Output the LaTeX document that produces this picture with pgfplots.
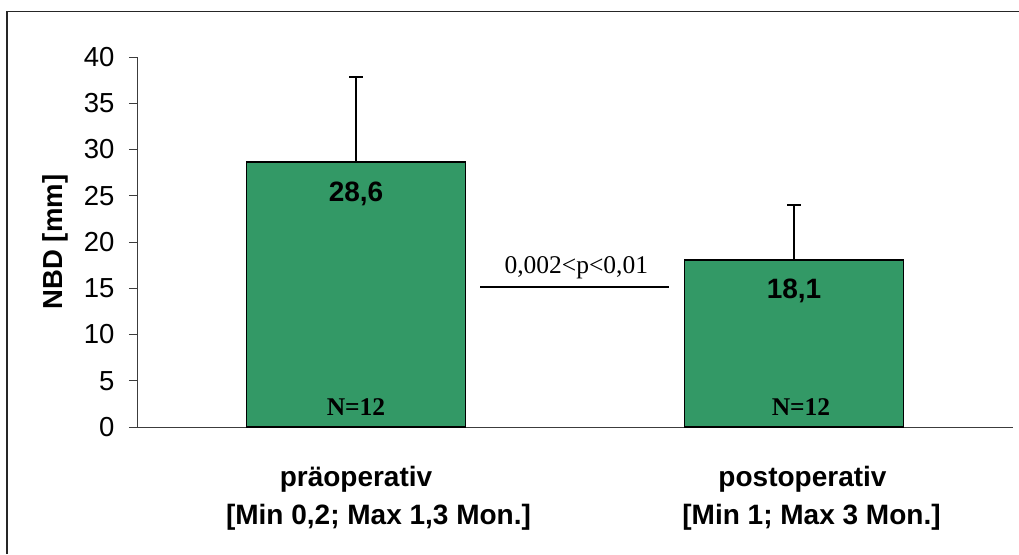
\documentclass[border=0pt]{standalone}
\usepackage{fontspec}
\setmainfont{Liberation Sans}
\newfontfamily\seriffont{Liberation Serif}
\usepackage{pgfplots}
\pgfplotsset{compat=1.18}
\definecolor{barfill}{RGB}{51,153,102}
\definecolor{axisgray}{RGB}{60,60,60}

% mean NBD with upper standard deviation
\pgfplotstableread{
x   y     err
0   28.6  9.2
1   18.1  5.9
}\nbddata

\begin{document}
\begin{tikzpicture}
\useasboundingbox (0pt,0pt) rectangle (1019pt,554pt);
% outer frame of the chart area
\draw[line width=1.4pt, black!85] (7pt,0pt) -- (7pt,542.7pt) -- (1019pt,542.7pt);
\begin{axis}[
  at={(137pt,127pt)}, anchor=south west,
  width=876pt, height=370pt, scale only axis,
  xmin=-0.5, xmax=1.5, ymin=0, ymax=40,
  clip=false,
  ybar, bar width=219pt,
  axis x line=bottom, axis y line=left,
  axis line style={-, axisgray, line width=0.9pt},
  tick align=outside,
  major tick length=8pt,
  ytick={0,5,...,40},
  ytick style={axisgray, line width=0.9pt},
  xtick={0,1},
  xtick style={draw=none},
  xticklabels={
    {präoperativ\\\hspace*{45pt}[Min 0,2; Max 1,3 Mon.]},
    {\hspace*{17pt}postoperativ\\\hspace*{35pt}[Min 1; Max 3 Mon.]}},
  xticklabel style={font=\bfseries\fontsize{28}{38}\selectfont, align=center, yshift=-28pt},
  yticklabel style={font=\fontsize{27.5}{32}\selectfont, xshift=-11pt},
  /pgf/number format/assume math mode=true,
  ylabel={NBD [mm]},
  ylabel style={font=\bfseries\fontsize{27.5}{32}\selectfont, at={(axis description cs:-0.0936,0.5)}, anchor=center},
  nodes near coords={\pgfmathprintnumber[fixed,fixed zerofill,precision=1,use comma]{\pgfplotspointmeta}},
  every node near coord/.append style={font=\bfseries\fontsize{28}{32}\selectfont, anchor=center, yshift=-31pt, text=black},
]
\addplot[fill=barfill, draw=black, line width=1.9pt,
  error bars/.cd, y dir=plus, y explicit,
  error bar style={line width=1.9pt, black},
  error mark options={rotate=90, line width=1.9pt, mark size=7pt, black}]
  table[x=x, y=y, y error=err] {\nbddata};
% sample sizes
\node[font=\seriffont\bfseries\fontsize{25.5}{30}\selectfont, yshift=20pt] at (axis cs:0,0) {N=12};
\node[font=\seriffont\bfseries\fontsize{25.5}{30}\selectfont, yshift=20pt, xshift=7pt] at (axis cs:1,0) {N=12};
% significance bracket
\draw[line width=1.8pt] (axis cs:0.2836,15.17) -- (axis cs:0.714,15.17);
\node[anchor=base, font=\seriffont\fontsize{25.5}{30}\selectfont] at (axis cs:0.503,16.6) {0,002<p<0,01};
\end{axis}
\end{tikzpicture}
\end{document}
